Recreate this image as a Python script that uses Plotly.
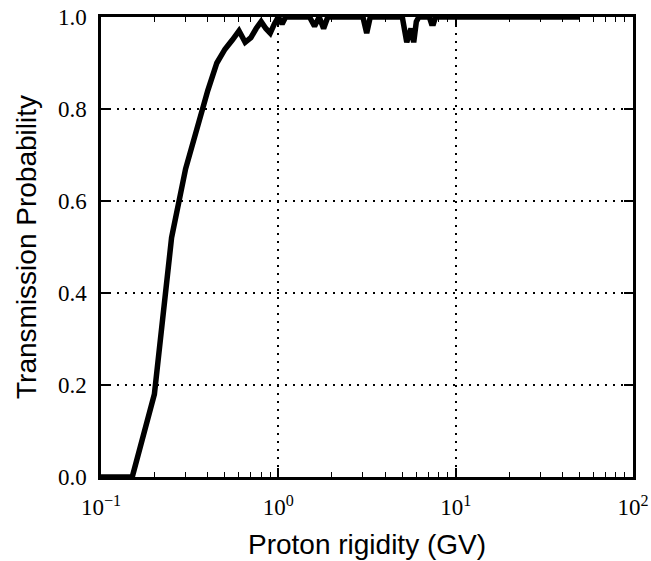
import plotly.graph_objects as go

rigidity = [0.1, 0.15, 0.2, 0.25, 0.3, 0.35, 0.4, 0.45, 0.5, 0.55, 0.6, 0.65, 0.7,
            0.75, 0.8, 0.85, 0.9, 0.95, 1.0, 1.05, 1.1, 1.5, 1.6, 1.7, 1.8, 1.9,
            2.0, 3.0, 3.15, 3.3, 5.0, 5.3, 5.6, 5.8, 6.0, 6.2, 7.1, 7.3, 7.5,
            7.7, 10.0, 20.0, 50.0]
probability = [0.0, 0.0, 0.18, 0.52, 0.67, 0.765, 0.84, 0.9, 0.93, 0.95, 0.97,
               0.945, 0.955, 0.975, 0.99, 0.975, 0.965, 0.985, 1.0, 0.985, 1.0,
               1.0, 0.98, 1.0, 0.975, 1.0, 1.0, 1.0, 0.965, 1.0, 1.0, 0.945,
               0.975, 0.945, 0.99, 1.0, 1.0, 0.986, 0.986, 1.0, 1.0, 1.0, 1.0]

x_tickvals = [0.1, 1, 10, 100]
x_ticktext = ["10<sup>−1</sup>", "10<sup>0</sup>", "10<sup>1</sup>", "10<sup>2</sup>"]
y_tickvals = [0.0, 0.2, 0.4, 0.6, 0.8, 1.0]
y_ticktext = ["0.0", "0.2", "0.4", "0.6", "0.8", "1.0"]
minor_x = [m * d for d in (0.1, 1, 10) for m in range(2, 10)]

fig = go.Figure()
fig.add_trace(go.Scatter(x=rigidity, y=probability, mode="lines",
                         line=dict(color="black", width=5.5), showlegend=False))

tickfont = dict(family="Liberation Serif, DejaVu Serif, serif", size=23, color="black")
titlefont = dict(family="Liberation Sans, Arial, sans-serif", size=28, color="black")
griddash = "2px,6px"

fig.update_xaxes(type="log", range=[-1, 2], tickvals=x_tickvals, ticktext=x_ticktext,
                 ticks="inside", ticklen=9, tickwidth=1.5, tickcolor="black",
                 minor=dict(ticks="inside", ticklen=5, tickwidth=1.2, tickcolor="black",
                            tickmode="array", tickvals=minor_x, showgrid=False),
                 showline=True, linewidth=2.5, linecolor="black", mirror="allticks",
                 showgrid=True, gridcolor="black", gridwidth=1.5, griddash=griddash,
                 tickfont=tickfont, zeroline=False, automargin=False,
                 ticklabelstandoff=8,
                 title=dict(text="Proton rigidity (GV)", font=titlefont, standoff=16))
fig.update_yaxes(range=[0, 1], tickvals=y_tickvals, ticktext=y_ticktext,
                 ticks="inside", ticklen=9, tickwidth=1.5, tickcolor="black",
                 showline=True, linewidth=2.5, linecolor="black", mirror="allticks",
                 showgrid=True, gridcolor="black", gridwidth=1.5, griddash=griddash,
                 tickfont=tickfont, zeroline=False, automargin=False,
                 ticklabelstandoff=7,
                 title=dict(text="Transmission Probability", font=titlefont, standoff=14))

fig.update_layout(width=651, height=561, plot_bgcolor="white", paper_bgcolor="white",
                  margin=dict(l=101, r=18, t=17, b=84))

fig.write_html("out.html", config={"displayModeBar": False},
               post_script="document.body.style.margin='0';document.body.style.overflow='hidden';")
